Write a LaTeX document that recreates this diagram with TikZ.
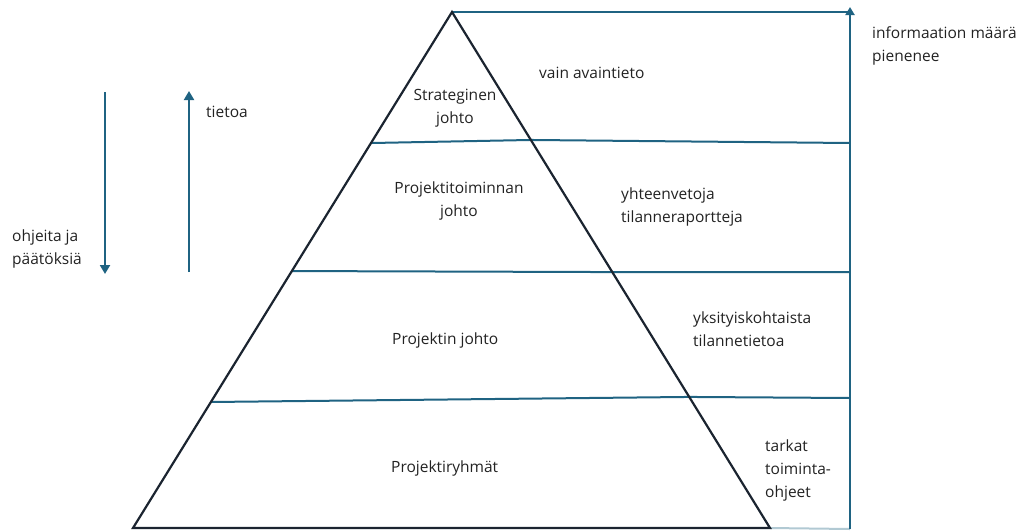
\documentclass[tikz,border=0pt]{standalone}
\usepackage{fontspec}
\setmainfont{Open Sans}
\usetikzlibrary{arrows.meta,calc}
\definecolor{tealline}{HTML}{1F6382}
\definecolor{edgeink}{HTML}{1B2430}
\definecolor{ink}{HTML}{222222}
\begin{document}
\begin{tikzpicture}[x=1pt,y=-1pt,
  frameline/.style={draw=tealline,line width=2pt},
  pyr/.style={draw=edgeink,line width=2.2pt,line join=miter},
  flow/.style={draw=tealline,line width=2pt,-{Triangle[width=10pt,length=9pt]}},
  lbl/.style={text=ink,font=\fontsize{15.5}{23}\selectfont,inner sep=0pt},
  ]
\useasboundingbox (0,0) rectangle (1028,531);

% pyramid corners and the right-hand frame
\coordinate (apex) at (452,12);
\coordinate (bl) at (133,528);
\coordinate (br) at (770,528);
\coordinate (tr) at (850,12);
\coordinate (rb) at (850,529);

% points where the level lines meet the pyramid edges
\coordinate (l1) at ($(apex)!0.2539!(bl)$);
\coordinate (r1) at ($(apex)!0.248!(br)$);
\coordinate (l2) at ($(apex)!0.502!(bl)$);
\coordinate (r2) at ($(apex)!0.504!(br)$);
\coordinate (l3) at ($(apex)!0.7558!(bl)$);
\coordinate (r3) at ($(apex)!0.746!(br)$);
\coordinate (e1) at (850,143);
\coordinate (e2) at (850,272);
\coordinate (e3) at (850,398);

% level lines
\draw[frameline] (apex) -- (tr);
\draw[frameline] (l1) -- (r1) -- (e1);
\draw[frameline] (l2) -- (r2) -- (e2);
\draw[frameline] (l3) -- (r3) -- (e3);
\draw[frameline,draw opacity=0.35] (br) -- (rb);

% right-hand arrow
\coordinate (rtop) at (850,7);
\draw[flow,line width=2.2pt,-{Triangle[width=9pt,length=8pt]}] (rb) -- (rtop);

% pyramid
\draw[pyr] (apex) -- (br) -- (bl) -- cycle;

% left-hand arrows
\coordinate (d1) at (105,92);
\coordinate (d2) at (105,274);
\coordinate (u1) at (189,272);
\coordinate (u2) at (189,91);
\draw[flow] (d1) -- (d2);
\draw[flow] (u1) -- (u2);

% labels
\node[lbl,anchor=west] (tietoa) at (206,112) {tietoa};
\node[lbl,anchor=west,align=left] (ohjeet) at (12,249) {ohjeita ja\\päätöksiä};
\node[lbl,align=center] (strat) at (455,108) {Strateginen\\johto};
\node[lbl,anchor=west] (avain) at (539,73) {vain avaintieto};
\node[lbl,anchor=west,align=left] (info) at (872,46) {informaation määrä\\pienenee};
\node[lbl,align=center] (ptj) at (459,201) {Projektitoiminnan\\johto};
\node[lbl,anchor=west,align=left] (yht) at (621,207) {yhteenvetoja\\tilanneraportteja};
\node[lbl,anchor=west] (pj) at (392,340) {Projektin johto};
\node[lbl,anchor=west,align=left] (yks) at (693,329) {yksityiskohtaista\\tilannetietoa};
\node[lbl,anchor=west] (pr) at (391,468) {Projektiryhmät};
\node[lbl,anchor=west,align=left] (tark) at (765,470) {tarkat\\toiminta-\\ohjeet};
\end{tikzpicture}
\end{document}
